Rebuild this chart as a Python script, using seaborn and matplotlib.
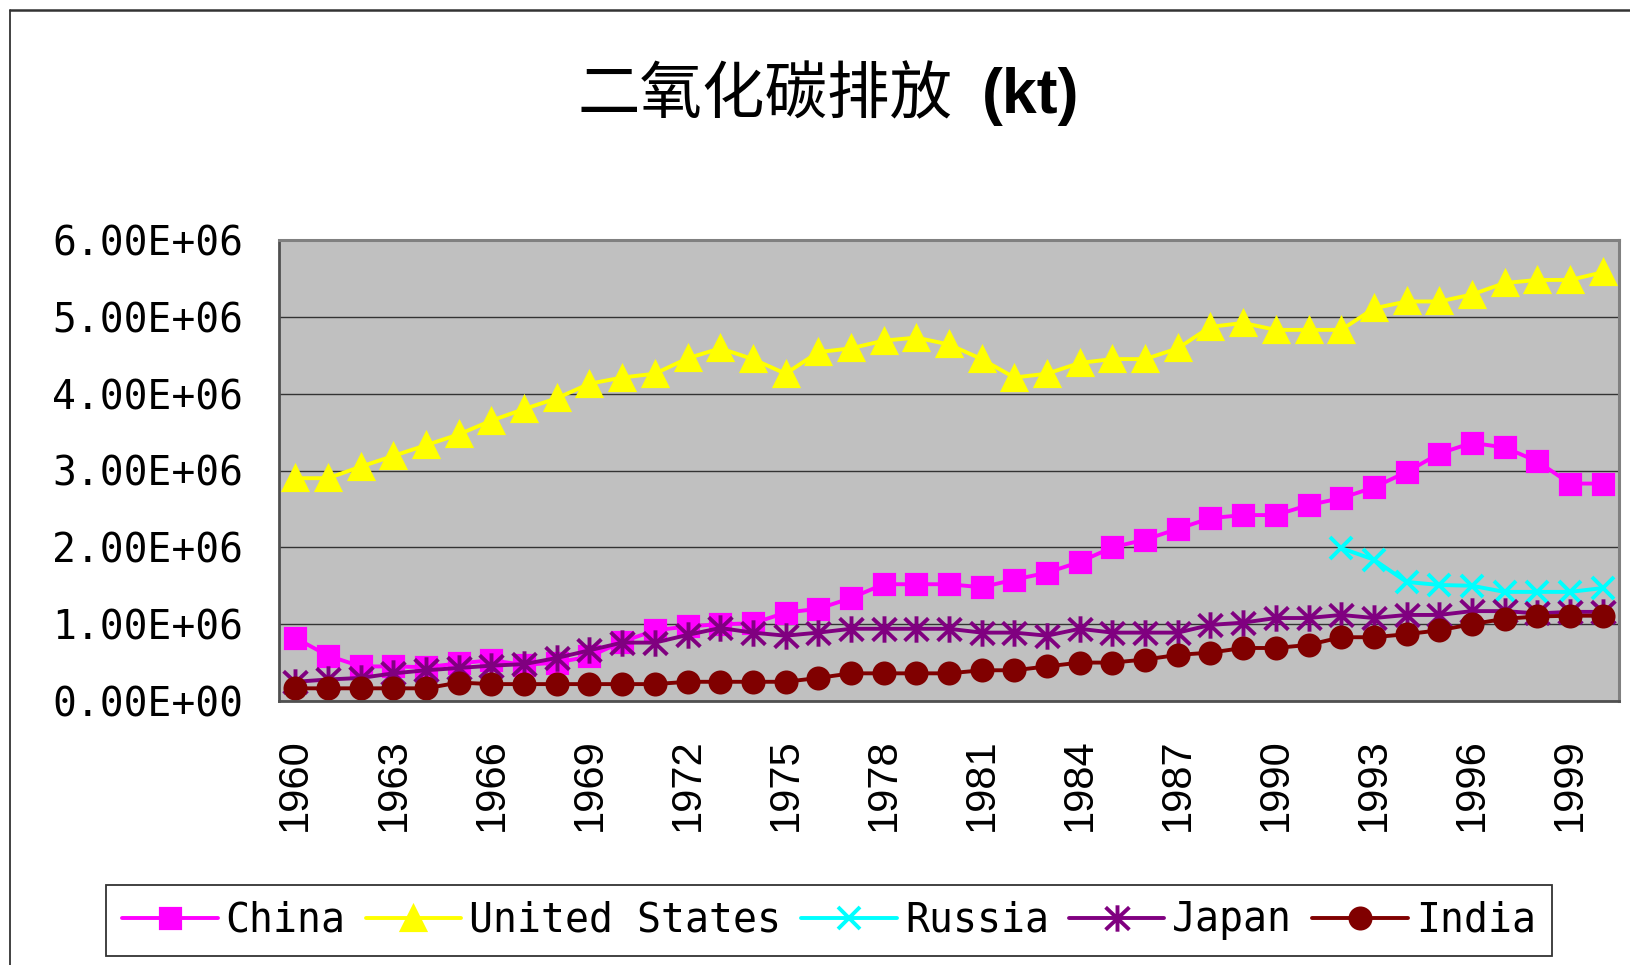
import matplotlib
matplotlib.use("Agg")
import matplotlib.pyplot as plt
import seaborn as sns
import numpy as np
from matplotlib.path import Path
from matplotlib.lines import Line2D

# ---------------- data (kt) ----------------
years = list(range(1960, 2001))

china = [820000, 590000, 450000, 450000, 440000, 490000, 530000, 470000, 500000, 580000,
         770000, 920000, 970000, 1000000, 1010000, 1150000, 1200000, 1340000, 1520000, 1520000,
         1520000, 1480000, 1580000, 1670000, 1810000, 2000000, 2100000, 2240000, 2380000, 2420000,
         2420000, 2550000, 2640000, 2780000, 2980000, 3220000, 3360000, 3300000, 3120000, 2830000,
         2830000]

united_states = [2900000, 2900000, 3050000, 3190000, 3330000, 3470000, 3650000, 3800000, 3940000, 4130000,
                 4210000, 4260000, 4460000, 4590000, 4450000, 4260000, 4540000, 4590000, 4690000, 4730000,
                 4640000, 4450000, 4210000, 4260000, 4400000, 4450000, 4450000, 4590000, 4870000, 4920000,
                 4830000, 4830000, 4830000, 5110000, 5200000, 5200000, 5290000, 5440000, 5480000, 5480000,
                 5580000]

russia_years = list(range(1992, 2001))
russia = [1990000, 1840000, 1550000, 1510000, 1500000, 1420000, 1420000, 1420000, 1470000]

japan = [250000, 280000, 300000, 360000, 400000, 430000, 460000, 480000, 560000, 660000,
         760000, 760000, 860000, 950000, 890000, 850000, 890000, 940000, 940000, 940000,
         940000, 890000, 890000, 850000, 940000, 890000, 890000, 890000, 990000, 1020000,
         1080000, 1080000, 1120000, 1080000, 1120000, 1120000, 1170000, 1170000, 1140000, 1160000,
         1160000]

india = [165000, 165000, 165000, 165000, 165000, 240000, 220000, 220000, 220000, 220000,
         220000, 220000, 250000, 250000, 250000, 250000, 300000, 360000, 360000, 360000,
         360000, 400000, 400000, 450000, 500000, 500000, 540000, 600000, 630000, 690000,
         690000, 730000, 830000, 830000, 870000, 920000, 1000000, 1070000, 1100000, 1110000,
         1110000]

tick_years = years[::3]
ytick_values = [0, 1000000, 2000000, 3000000, 4000000, 5000000, 6000000]
ytick_labels = ["0.00E+00", "1.00E+06", "2.00E+06", "3.00E+06", "4.00E+06", "5.00E+06", "6.00E+06"]
title_cn = "二氧化碳排放"
title_unit = "(kt)"

# ---------------- style ----------------
sns.set_style("white")
plt.rcParams['font.family'] = ['DejaVu Sans Mono', 'DejaVu Sans']
plt.rcParams['text.color'] = 'black'
plt.rcParams['xtick.labelcolor'] = 'black'
plt.rcParams['ytick.labelcolor'] = 'black'

W, H = 1631, 965
fig = plt.figure(figsize=(W / 100, H / 100), dpi=100)
fig.patch.set_facecolor("white")
ax = fig.add_axes([279 / W, 1 - 701 / H, 1340 / W, 461 / H])
ax.set_facecolor("#C0C0C0")

# Excel-like asterisk marker: vertical bar plus X
star = Path([(0, -1), (0, 1), (-0.9, -0.85), (0.9, 0.85), (-0.9, 0.85), (0.9, -0.85)],
            [Path.MOVETO, Path.LINETO, Path.MOVETO, Path.LINETO, Path.MOVETO, Path.LINETO])

pos = {y: i for i, y in enumerate(years)}

series = [
    ("China", years, china, "#FF00FF", "s", 14.5, 2.3),
    ("United States", years, united_states, "#FFFF00", "^", 17.5, 2.3),
    ("Russia", russia_years, russia, "#00FFFF", "x", 16, 2.8),
    ("Japan", years, japan, "#800080", star, 19, 2.8),
    ("India", years, india, "#800000", "o", 15, 2.3),
]

for name, yrs, vals, col, mk, ms, mew in series:
    sns.lineplot(x=[pos[y] for y in yrs], y=vals, ax=ax, color=col, marker=mk,
                 markersize=ms, markeredgecolor=col, markerfacecolor=col,
                 markeredgewidth=mew, linewidth=2.8, label=name, sort=False)

if ax.get_legend() is not None:
    ax.get_legend().remove()

# axes
ax.set_xlim(-0.5, len(years) - 0.5)
ax.set_ylim(0, 6000000)
ax.set_xticks([pos[y] for y in tick_years])
ax.set_xticklabels([str(y) for y in tick_years], rotation=90,
                   fontfamily="Liberation Sans", fontsize=30, color="black")
ax.set_xticks(np.arange(-0.5, len(years), 1.0), minor=True)
ax.tick_params(axis="x", which="major", length=0, pad=27)
ax.tick_params(axis="x", which="minor", direction="in", length=10, width=1.2, color="#404040")

ax.set_yticks(ytick_values)
ax.set_yticklabels(ytick_labels, fontsize=28.5, color="black")
ax.tick_params(axis="y", which="major", direction="in", length=10, width=1.2,
               color="#303030", pad=26)
ax.yaxis.grid(True, color="#333333", linewidth=1.0)
ax.xaxis.grid(False)
ax.set_axisbelow(True)
ax.set_xlabel("")
ax.set_ylabel("")

for side in ["top", "right"]:
    ax.spines[side].set_color("#808080")
    ax.spines[side].set_linewidth(2.2)
for side in ["left", "bottom"]:
    ax.spines[side].set_color("#505050")
    ax.spines[side].set_linewidth(2.0)

# title
ty = 1 - 113 / H
fig.text(953 / W, ty, title_cn, ha="right", va="baseline", fontsize=45,
         family=["Noto Sans CJK SC"], fontweight="light", color="black")
fig.text(982 / W, ty, title_unit, ha="left", va="baseline", fontsize=45,
         family="Liberation Sans", fontweight="bold", color="black")

# legend
handles, labels = ax.get_legend_handles_labels()
leg = fig.legend(handles, labels, loc="center", bbox_to_anchor=(829 / W, 1 - 920.5 / H),
                 ncol=5, frameon=True, fancybox=False, edgecolor="black",
                 fontsize=28.7, handlelength=2.4, handletextpad=0.2,
                 columnspacing=0.5, borderpad=0.4, borderaxespad=0)
leg.get_frame().set_linewidth(1.3)
for t in leg.get_texts():
    t.set_color("black")

# outer chart border (top and left visible)
fig.add_artist(Line2D([10.5 / W, 10.5 / W], [0, 1 - 9.5 / H], transform=fig.transFigure,
                      color="#333333", linewidth=1.3))
fig.add_artist(Line2D([10.5 / W, 1], [1 - 9.5 / H, 1 - 9.5 / H], transform=fig.transFigure,
                      color="#333333", linewidth=1.8))

fig.savefig("out.png", dpi=100)
